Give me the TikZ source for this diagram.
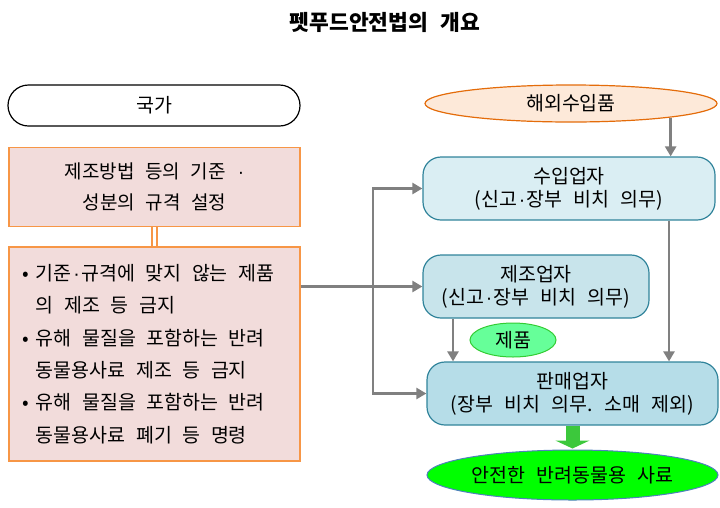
\documentclass[tikz,border=0pt]{standalone}
\usepackage{fontspec}
\setmainfont{Noto Sans CJK KR}[WordSpace=2.5]
\newfontfamily\dotfont{Liberation Sans}
\newcommand{\mdot}{\hspace{1.5pt}{\dotfont ·}\hspace{1.5pt}}
\newcommand{\xs}{\hspace{4pt}}
\usetikzlibrary{arrows.meta,shapes.geometric,calc}
\definecolor{orgB}{HTML}{F79646}
\definecolor{pinkF}{HTML}{F2DCDB}
\definecolor{peachF}{HTML}{FDE9D9}
\definecolor{peachB}{HTML}{E46C0A}
\definecolor{tealB}{HTML}{31849B}
\definecolor{blueA}{HTML}{DAEEF3}
\definecolor{blueB}{HTML}{C8E4EB}
\definecolor{blueC}{HTML}{B6DDE8}
\definecolor{grnF}{HTML}{66FF99}
\definecolor{grnB}{HTML}{33CC33}
\definecolor{limeF}{HTML}{00FF00}
\definecolor{ellB}{HTML}{4F81BD}
\definecolor{arrG}{HTML}{808080}
\definecolor{bigArr}{HTML}{3CC83C}
\tikzset{
  txt/.style={font=\fontsize{19.5}{23}\selectfont, align=center},
  lawbox/.style={txt, draw=orgB, fill=pinkF, line width=1.5pt, minimum width=291pt},
  bizbox/.style={txt, draw=tealB, line width=1.2pt, rounded corners=18pt, minimum height=63pt},
  conn/.style={draw=arrG, line width=2.6pt, -{Triangle[width=11pt,length=10pt]}},
}
\begin{document}
\begin{tikzpicture}[x=1pt,y=-1pt]
\useasboundingbox (0,0) rectangle (720,507);
\node[font=\fontsize{21.5}{24}\selectfont\bfseries] (title) at (385,22) {펫푸드안전법의 개요};
\node[txt, draw=black, fill=white, line width=1.2pt, rounded corners=20.5pt,
      minimum width=292pt, minimum height=41pt] (gukga) at (154,105.5) {국가};
\node[txt, ellipse, draw=peachB, fill=peachF, line width=1.2pt,
      minimum width=292pt, minimum height=37pt, inner sep=0pt] (haewoe) at (571,103.5) {해외수입품};
\node[lawbox, minimum height=79pt, font=\fontsize{19}{31.5}\selectfont] (box1) at (154.5,187) {제조방법 등의 기준 \mdot\\성분의 규격 설정};
\node[lawbox, minimum height=214pt, align=left, inner xsep=14pt, text width=263pt,
      font=\fontsize{19.5}{32.4}\selectfont] (box2) at (154.5,354)
  {\mbox{\makebox[13pt][l]{•}기준\mdot 규격에\xs{} 맞지\xs{} 않는\xs{} 제품}\\
   \mbox{\hspace*{13pt}의\xs{} 제조\xs{} 등\xs{} 금지}\\
   \mbox{\makebox[13pt][l]{•}유해\xs{} 물질을\xs{} 포함하는\xs{} 반려}\\
   \mbox{\hspace*{13pt}동물용사료\xs{} 제조\xs{} 등\xs{} 금지}\\
   \mbox{\makebox[13pt][l]{•}유해\xs{} 물질을\xs{} 포함하는\xs{} 반려}\\
   \mbox{\hspace*{13pt}동물용사료\xs{} 폐기\xs{} 등\xs{} 명령}};
\node[bizbox, fill=blueA, minimum width=292pt] (suip) at (569,188.5) {수입업자\\(신고\mdot 장부 비치 의무)};
\node[bizbox, fill=blueB, minimum width=226pt] (jejo) at (536,286.5) {제조업자\\(신고\mdot 장부 비치 의무)};
\node[bizbox, fill=blueC, minimum width=291pt] (panmae) at (572.5,393.5) {판매업자\\(장부 비치 의무. 소매 제외)};
\node[txt, ellipse, draw=grnB, fill=grnF, line width=1pt, minimum width=86pt, minimum height=34pt, inner sep=0pt] (jepum) at (513,340) {제품};
\node[txt, ellipse, draw=ellB, fill=limeF, line width=1pt, minimum width=291pt, minimum height=50pt, inner sep=0pt] (anjeon) at (572.5,475) {안전한 반려동물용 사료};
% connectors
\draw[orgB, double=white, double distance=3pt, line width=1.6pt] (box1.south) -- (box2.north);
\coordinate (jt) at (373,286.5);
\draw[conn] (jejo.west -| box2.east) -- (jejo.west);
\draw[conn] (jt) |- (suip.west);
\draw[conn] (jt) |- (panmae.west);
\draw[conn] (haewoe.-8) -- (haewoe.-8 |- suip.north);
\coordinate (sd) at ([xshift=100pt]suip.south);
\draw[conn] (sd) -- (sd |- panmae.north);
\coordinate (jd) at ([xshift=-83pt]jejo.south);
\draw[conn] (jd) -- (jd |- panmae.north);
\draw[bigArr, line width=14pt, -{Triangle[width=34pt,length=8pt]}] (panmae.south) -- ([yshift=1pt]anjeon.north);
\end{tikzpicture}
\end{document}
